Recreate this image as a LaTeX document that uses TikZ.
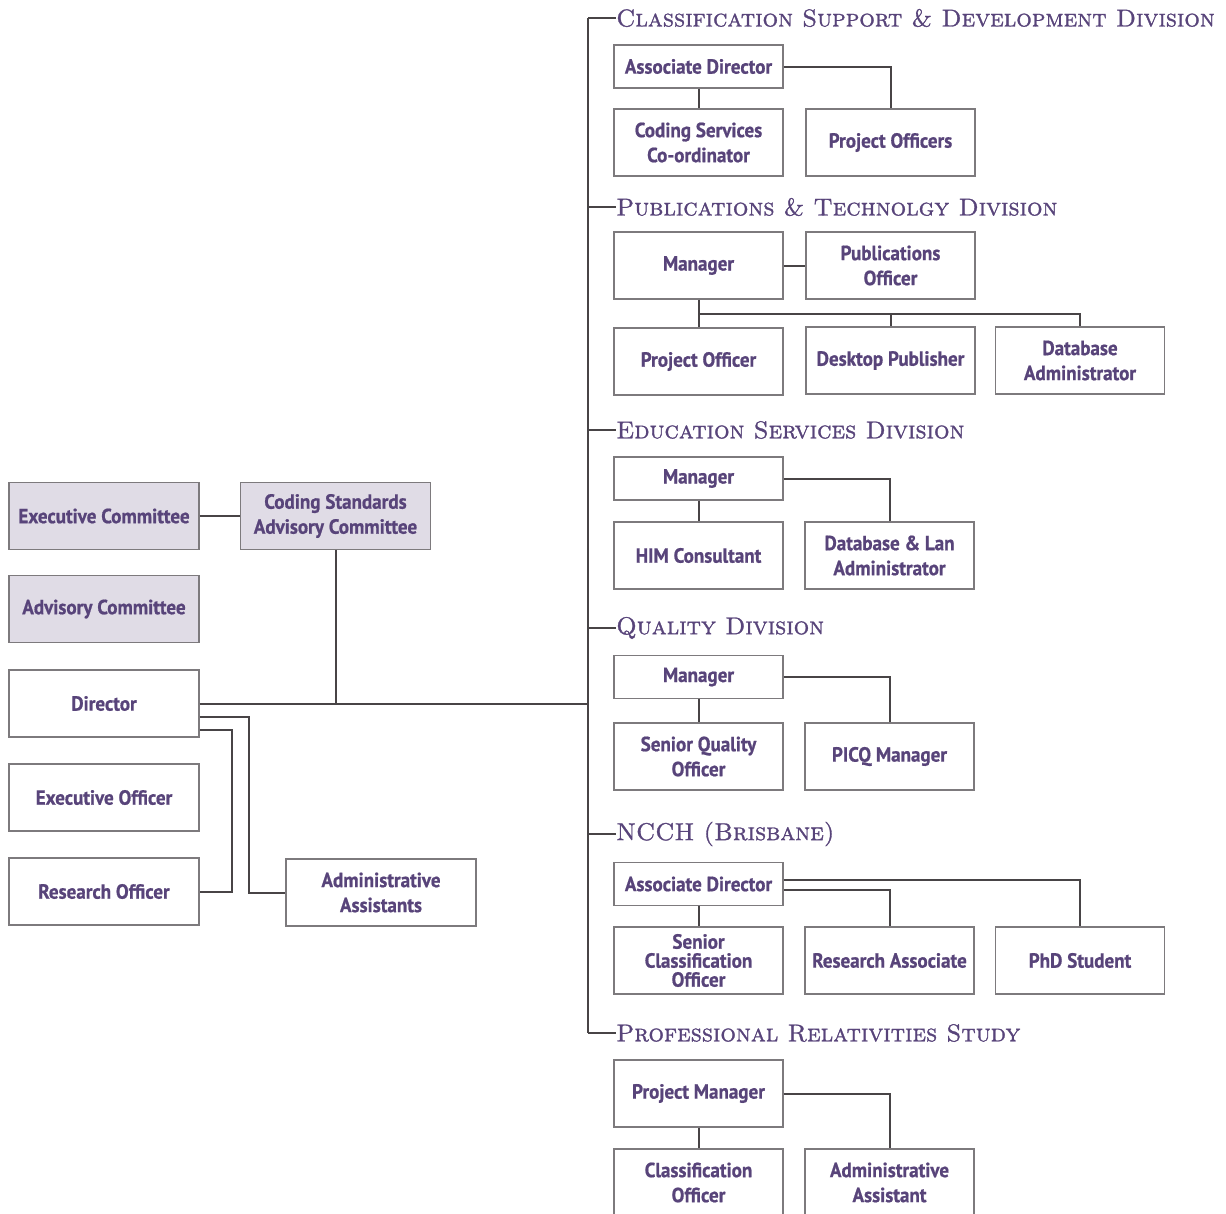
\documentclass[tikz,border=0pt]{standalone}
\usepackage{fontspec}
\newfontfamily\boxfont{PT Sans}[FakeStretch=0.93,FakeBold=0.8]
\newfontfamily\headfont{Latin Modern Roman}[FakeBold=1.2,
  SmallCapsFont={Latin Modern Roman Caps}, SmallCapsFeatures={FakeBold=1.2}]
\usetikzlibrary{positioning,calc}

\definecolor{orgpurple}{RGB}{88,68,122}
\definecolor{orgfill}{RGB}{224,220,230}
\definecolor{orgline}{RGB}{72,68,70}
\definecolor{orgborder}{RGB}{125,122,125}

\tikzset{
  unit/.style={draw=orgborder, line width=1.2pt, fill=white, text=orgpurple,
    minimum width=169pt, minimum height=67pt, inner sep=1pt, align=center,
    font=\boxfont\bfseries\fontsize{20.5}{25}\selectfont},
  shortunit/.style={unit, minimum height=43pt},
  committee/.style={unit, fill=orgfill, minimum width=190pt},
  division/.style={anchor=west, inner sep=0pt, text=orgpurple,
    font=\headfont\fontsize{24.4}{26}\selectfont\scshape},
  link/.style={draw=orgline, line width=2pt}
}

\begin{document}
\begin{tikzpicture}[x=1pt, y=-1pt]
\useasboundingbox (0,0) rectangle (1226,1213);

% Part A: Director and committees

\node[committee] (exec) at (104,516) {Executive Committee};
\node[committee] (csac) at (335.5,516) {Coding Standards\\Advisory Committee};
\node[committee] (adv) at (104,609) {Advisory Committee};
\node[unit, minimum width=190pt] (dir) at (104,703.5) {Director};
\node[unit, minimum width=190pt] (eo) at (104,797.5) {Executive Officer};
\node[unit, minimum width=190pt] (ro) at (104,891.5) {Research Officer};
\node[unit, minimum width=190pt] (aa) at (381,892.5) {Administrative\\Assistants};

\coordinate (spine) at (588,17);

\draw[link] (exec.east) -- (csac.west);
\draw[link] (dir.east) -- (dir.east -| spine);
\draw[link] (csac.south) -- (csac.south |- dir.east);
\draw[link] ([yshift=-13pt]dir.east) -| (249,0 |- aa.west) -- (aa.west);
\draw[link] ([yshift=-26pt]dir.east) -| (232,0 |- ro.east) -- (ro.east);

% Part B: Division headings

\node[division] (h1) at (616,18) {Classification Support \& Development Division};
\node[division] (h2) at (616,207) {Publications \& Technolgy Division};
\node[division] (h3) at (616,430) {Education Services Division};
\node[division] (h4) at (616,628) {Quality Division};
\node[division] (h5) at (616,834) {NCCH (Brisbane)};
\node[division] (h6) at (616,1033) {Professional Relativities Study};

\draw[link] (h1.west -| spine) -- (h6.west -| spine);
\foreach \h in {h1,h2,h3,h4,h5,h6}
  \draw[link] (\h.west -| spine) -- (\h.west);

% Part C: Classification Support & Development

\node[shortunit] (cad) at (698.5,66.5) {Associate Director};
\node[unit] (csc) at (698.5,142.5) {Coding Services\\Co-ordinator};
\node[unit] (cpo) at (890.5,142.5) {Project Officers};

\draw[link] (cad.south) -- (csc.north);
\draw[link] (cad.east) -| (cpo.north);

% Part D: Publications & Technolgy

\node[unit] (pman) at (698.5,265.5) {Manager};
\node[unit] (ppub) at (890.5,265.5) {Publications\\Officer};
\node[unit] (ppo) at (698.5,361.5) {Project Officer};
\node[unit] (pdtp) at (890.5,360.5) {Desktop Publisher};
\node[unit] (pdba) at (1080,360.5) {Database\\Administrator};

\draw[link] (pman.east) -- (ppub.west);
\draw[link] (pman.south) -- (ppo.north);
\draw[link] (pman.south |- 0,314) -- (pdba.north |- 0,314) -- (pdba.north);
\draw[link] (pdtp.north |- 0,314) -- (pdtp.north);

% Part E: Education Services

\node[shortunit] (eman) at (698.5,478.5) {Manager};
\node[unit] (ehim) at (698.5,555.5) {HIM Consultant};
\node[unit] (elan) at (889.5,555.5) {Database \& Lan\\Administrator};

\draw[link] (eman.south) -- (ehim.north);
\draw[link] (eman.east) -| (elan.north);

% Part F: Quality

\node[shortunit] (qman) at (698.5,677) {Manager};
\node[unit] (qsqo) at (698.5,756.5) {Senior Quality\\Officer};
\node[unit] (qpicq) at (889.5,756.5) {PICQ Manager};

\draw[link] (qman.south) -- (qsqo.north);
\draw[link] (qman.east) -| (qpicq.north);

% Part G: NCCH (Brisbane)

\node[shortunit] (nad) at (698.5,884) {Associate Director};
\node[unit, font=\boxfont\bfseries\fontsize{20.5}{19}\selectfont] (nsco) at (698.5,960.5) {Senior\\Classification\\Officer};
\node[unit] (nra) at (889.5,960.5) {Research Associate};
\node[unit] (nphd) at (1080,960.5) {PhD Student};

\draw[link] (nad.south) -- (nsco.north);
\draw[link] ([yshift=4pt]nad.east) -| (nphd.north);
\draw[link] ([yshift=-6pt]nad.east) -| (nra.north);

% Part H: Professional Relativities Study

\node[unit] (sman) at (698.5,1093.5) {Project Manager};
\node[unit] (sco) at (698.5,1182.5) {Classification\\Officer};
\node[unit] (saa) at (889.5,1182.5) {Administrative\\Assistant};

\draw[link] (sman.south) -- (sco.north);
\draw[link] (sman.east) -| (saa.north);

\end{tikzpicture}
\end{document}
